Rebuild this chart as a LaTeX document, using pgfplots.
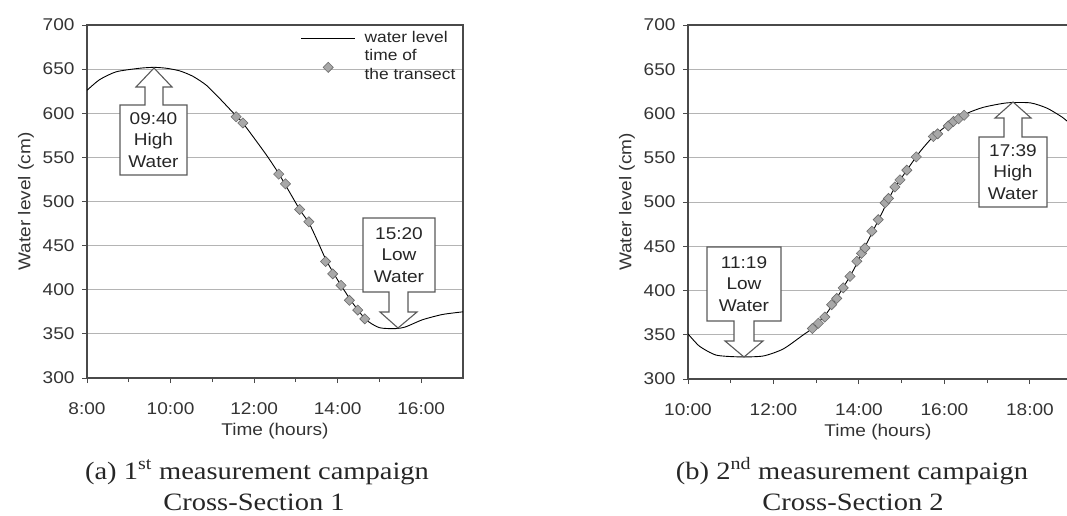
\documentclass[border=0pt]{standalone}
\usepackage{fontspec}
\usepackage{graphicx}
\setmainfont{Liberation Sans}
\newfontfamily\capfont{Liberation Serif}
\usepackage{pgfplots}
\pgfplotsset{compat=1.18}

\definecolor{framec}{HTML}{4A4A4A}
\definecolor{gridc}{HTML}{B4B4B4}
\definecolor{mkfill}{HTML}{A8A8A8}
\definecolor{mkdraw}{HTML}{6A6A6A}
\definecolor{boxc}{HTML}{5A5A5A}
\newcommand{\labfont}{\fontsize{17}{20}\selectfont}
% the source chart's Arial is set a little wide
\newcommand{\sx}[1]{\scalebox{1.12}[1]{#1}}
\newcommand{\cx}[1]{\scalebox{1.14}[1]{#1}}

% hours as decimals, water level in cm
\pgfplotstableread{
t     h
8.00  626
8.30  638
8.70  647
9.26  651
9.60  652
9.90  651
10.22 648
10.53 642
10.85 632
11.17 617
11.49 601
11.73 589
12.29 553
12.61 530
13.09 491
13.31 476
13.52 455
13.73 433
14.04 408
14.36 385
14.68 366
15.00 357
15.39 356
15.63 358
16.03 366
16.51 372
17.00 375
}\levelA
\pgfplotstableread{
t     h
11.57 596
11.73 589
12.59 531
12.75 520
13.09 491
13.31 477
13.71 432
13.88 418
14.08 405
14.28 388
14.48 377
14.65 367
}\transA
\pgfplotstableread{
t     h
10.00 351
10.27 337
10.66 327
11.21 325
11.76 326
12.23 334
12.70 350
12.93 358
13.24 374
13.55 397
13.87 423
14.18 453
14.49 483
14.80 513
15.12 536
15.43 557
15.74 574
16.13 589
16.52 600
16.91 607
17.46 612
18.01 612
18.40 606
18.75 596
18.90 590
}\levelB
\pgfplotstableread{
t     h
12.91 357
13.05 363
13.20 370
13.36 384
13.48 391
13.63 403
13.79 416
13.95 433
14.06 442
14.14 448
14.30 467
14.45 480
14.61 499
14.69 504
14.84 517
14.96 525
15.12 536
15.34 551
15.74 574
15.84 577
16.09 586
16.21 591
16.33 594
16.46 598
}\transB

\pgfplotsset{tide/.style={
  scale only axis, height=353pt, anchor=south west,
  ymin=300, ymax=700, ytick={300,350,...,700},
  ymajorgrids, grid style={gridc, line width=0.8pt},
  axis line style={framec, line width=1.4pt},
  tick style={framec, line width=1pt},
  tick align=outside, major tick length=5pt, minor tick length=4pt,
  xtick pos=bottom, ytick pos=left,
  /pgf/number format/assume math mode=true,
  tick label style={font=\labfont, text=black!80},
  label style={font=\labfont, text=black!80},
  yticklabel={\sx{\pgfmathprintnumber{\tick}}},
  yticklabel style={xshift=-4pt},
  xticklabel style={yshift=-16pt},
  ylabel={\sx{Water level (cm)}}, xlabel={\sx{Time (hours)}},
  ylabel style={yshift=2pt},
  xlabel style={yshift=-2pt},
  },
  trans/.style={only marks, mark=square*, mark size=3.6pt,
    mark options={rotate=45, fill=mkfill, draw=mkdraw, line width=0.6pt}},
  linelegend/.style={legend image code/.code={
    \draw[black, line width=0.9pt] (0pt,0pt) -- (54pt,0pt);}},
  translegend/.style={legend image code/.code={
    \draw[mark=square*, mark size=3.6pt,
      mark options={rotate=45, fill=mkfill, draw=mkdraw, line width=0.6pt}]
      plot coordinates {(27pt,-2pt)};}},
}

\begin{document}
\begin{tikzpicture}
\path[use as bounding box] (0pt,0pt) rectangle (1067pt,-516pt);

\begin{axis}[tide, at={(87pt,-378pt)}, width=376pt,
  xmin=8, xmax=17, xtick={8,10,12,14,16},
  xticklabels={\sx{8:00},\sx{10:00},\sx{12:00},\sx{14:00},\sx{16:00}},
  minor xtick={9,11,13,15},
  legend style={draw=none, fill=none, at={(0.56,0.99)}, anchor=north west,
    font=\fontsize{15.5}{19}\selectfont, row sep=3pt, column sep=8pt,
    nodes={align=left, inner sep=1pt, text=black!85}},
  legend cell align=left]
\addplot[black, line width=0.9pt, smooth, tension=0.4, linelegend]
  table[x=t, y=h] {\levelA};
\addlegendentry{\sx{water level}}
\addplot[trans, translegend] table[x=t, y=h] {\transA};
\addlegendentry{\sx{time of}\\\sx{the transect}}
\end{axis}

\begin{axis}[tide, at={(688pt,-379pt)}, width=380pt, height=354pt,
  xmin=10, xmax=18.89, xtick={10,12,14,16,18},
  xticklabels={\sx{10:00},\sx{12:00},\sx{14:00},\sx{16:00},\sx{18:00}},
  minor xtick={11,13,15,17}]
\addplot[black, line width=0.9pt, smooth, tension=0.4] table[x=t, y=h] {\levelB};
\addplot[trans] table[x=t, y=h] {\transB};
\end{axis}

% high / low water call-outs
\begin{scope}[x=1pt, y=-1pt, boxc, line width=1.1pt, fill=white]
\filldraw (120,105)--(145,105)--(145,87)--(136,87)--(154,68)--(172,87)--(163,87)--(163,105)
  --(187,105)--(187,175)--(120,175)--cycle;
\filldraw (363,218)--(435,218)--(435,292)--(408,292)--(408,312)--(417,312)--(398,328)
  --(380,312)--(389,312)--(389,292)--(363,292)--cycle;
\filldraw (707,247)--(781,247)--(781,321)--(754,321)--(754,341)--(763,341)--(744,357)
  --(725,341)--(734,341)--(734,321)--(707,321)--cycle;
\filldraw (979,137)--(1004,137)--(1004,118)--(995,118)--(1013,102)--(1031,118)--(1022,118)
  --(1022,137)--(1047,137)--(1047,207)--(979,207)--cycle;
\end{scope}
\begin{scope}[x=1pt, y=-1pt, every node/.style={align=center, text=black!85,
    font=\fontsize{17}{21.5}\selectfont}]
\node at (153.5,140) {\sx{09:40}\\\sx{High}\\\sx{Water}};
\node at (399,255) {\sx{15:20}\\\sx{Low}\\\sx{Water}};
\node at (744,284) {\sx{11:19}\\\sx{Low}\\\sx{Water}};
\node at (1013,172) {\sx{17:39}\\\sx{High}\\\sx{Water}};
\node[font=\capfont\fontsize{25}{30}\selectfont, anchor=base] at (257,479)
  {\cx{(a) 1\textsuperscript{st} measurement campaign}};
\node[font=\capfont\fontsize{25}{30}\selectfont, anchor=base] at (254,510) {\cx{Cross-Section 1}};
\node[font=\capfont\fontsize{25}{30}\selectfont, anchor=base] at (852,479)
  {\cx{(b) 2\textsuperscript{nd} measurement campaign}};
\node[font=\capfont\fontsize{25}{30}\selectfont, anchor=base] at (853,510) {\cx{Cross-Section 2}};
\end{scope}
\end{tikzpicture}
\end{document}
